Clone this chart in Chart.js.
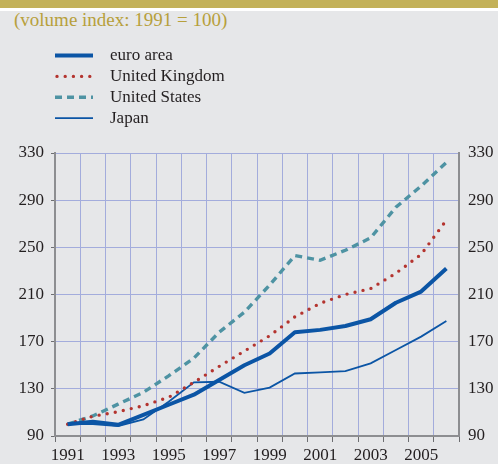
<!DOCTYPE html>
<html>
<head>
<meta charset="utf-8">
<script src="https://cdn.jsdelivr.net/npm/chart.js@4"></script>
<style>
  html, body { margin: 0; padding: 0; }
  body { width: 498px; height: 464px; background: #e6e7e9; position: relative; overflow: hidden; }
  #bar { position: absolute; left: 0; top: 0; width: 498px; height: 8px; background: #c3b159; }
  #stripe { position: absolute; left: 0; top: 8px; width: 498px; height: 3px; background: #ffffff; }
  #sub { position: absolute; left: 14px; top: 9px; font-family: "Liberation Serif", "DejaVu Serif", serif; font-size: 19px; color: #b7a03c; white-space: nowrap; }
  #wrap { position: absolute; left: 0; top: 0; width: 498px; height: 464px; }
</style>
</head>
<body>
<div id="bar"></div>
<div id="stripe"></div>
<div id="sub">(volume index: 1991 = 100)</div>
<div id="wrap"><canvas id="c" width="498" height="464"></canvas></div>
<script>
const years = ["1991","1992","1993","1994","1995","1996","1997","1998","1999","2000","2001","2002","2003","2004","2005","2006"];
const euroArea = [100, 102, 99.5, 108, 116.5, 125, 137.5, 150, 160, 178, 180, 183.3, 189, 203, 212.5, 232];
const unitedKingdom = [100, 106.7, 110.6, 115.7, 122.8, 135.5, 149, 162, 175, 191, 202.5, 210, 215, 228, 244, 273];
const unitedStates = [100, 107, 117, 127, 141, 156, 178, 195, 218, 243, 239, 247.5, 258, 284, 302, 322];
const japan = [100, 100, 98.5, 104, 119, 135.5, 136, 126.6, 131, 143, 144, 145, 151.6, 163, 174.3, 187.5];
const yTicks = [90, 130, 170, 210, 250, 290, 330];

const FONT = '"Liberation Serif", "DejaVu Serif", serif';
const BLUE = '#0b55a5';

const legendPlugin = {
  id: 'lineLegend',
  afterDraw(chart) {
    const ctx = chart.ctx;
    ctx.save();
    chart.data.datasets.forEach((ds, i) => {
      const y = 55.5 + i * 20.9;
      ctx.beginPath();
      ctx.strokeStyle = ds.borderColor;
      ctx.lineWidth = ds.borderWidth;
      ctx.lineCap = ds.borderCapStyle || 'butt';
      ctx.setLineDash(ds.borderDash || []);
      ctx.moveTo(ds.borderCapStyle === 'round' ? 57 : 55, y);
      ctx.lineTo(93, y);
      ctx.stroke();
      ctx.setLineDash([]);
      ctx.fillStyle = '#231f20';
      ctx.font = '17px ' + FONT;
      ctx.textBaseline = 'middle';
      ctx.textAlign = 'left';
      ctx.fillText(ds.label, 110, y + 0.5);
    });
    ctx.restore();
  }
};

new Chart(document.getElementById('c'), {
  type: 'line',
  data: {
    labels: years,
    datasets: [
      { label: 'euro area', data: euroArea, borderColor: BLUE, borderWidth: 4, pointRadius: 0, tension: 0, borderJoinStyle: 'round' },
      { label: 'United Kingdom', data: unitedKingdom, borderColor: '#b4342f', borderWidth: 3.4, borderDash: [0, 8.2], borderCapStyle: 'round', pointRadius: 0, tension: 0 },
      { label: 'United States', data: unitedStates, borderColor: '#4e93a3', borderWidth: 3.4, borderDash: [7, 5], pointRadius: 0, tension: 0 },
      { label: 'Japan', data: japan, borderColor: BLUE, borderWidth: 1.8, pointRadius: 0, tension: 0 }
    ]
  },
  options: {
    responsive: false,
    animation: false,
    layout: { padding: { top: 153, left: 0, right: 0, bottom: 0 } },
    plugins: { legend: { display: false }, tooltip: { enabled: false } },
    scales: {
      x: {
        type: 'category',
        offset: true,
        afterFit(s) { s.height = 28; },
        grid: { offset: true, color: '#a3acdc', lineWidth: 1, tickColor: '#6d6e71', tickLength: 6, drawOnChartArea: true },
        border: { color: '#8d8e91', width: 2 },
        ticks: {
          autoSkip: false, maxRotation: 0, padding: 3, color: '#231f20',
          font: { family: FONT, size: 17 },
          callback(v, i) { return i % 2 === 0 ? years[i] : ''; }
        }
      },
      y: {
        position: 'left', min: 90, max: 330,
        afterFit(s) { s.width = 55; },
        afterBuildTicks(s) { s.ticks = yTicks.map(v => ({ value: v })); },
        grid: { color: '#a3acdc', lineWidth: 1, tickColor: '#6d6e71', tickLength: 4 },
        border: { color: '#8d8e91', width: 2 },
        ticks: { padding: 7, color: '#231f20', font: { family: FONT, size: 17 } }
      },
      y2: {
        position: 'right', min: 90, max: 330,
        afterFit(s) { s.width = 39; },
        afterBuildTicks(s) { s.ticks = yTicks.map(v => ({ value: v })); },
        grid: { drawOnChartArea: false, drawTicks: false },
        border: { color: '#8d8e91', width: 2 },
        ticks: { padding: 9, color: '#231f20', font: { family: FONT, size: 17 } }
      }
    }
  },
  plugins: [legendPlugin]
});
</script>
</body>
</html>
